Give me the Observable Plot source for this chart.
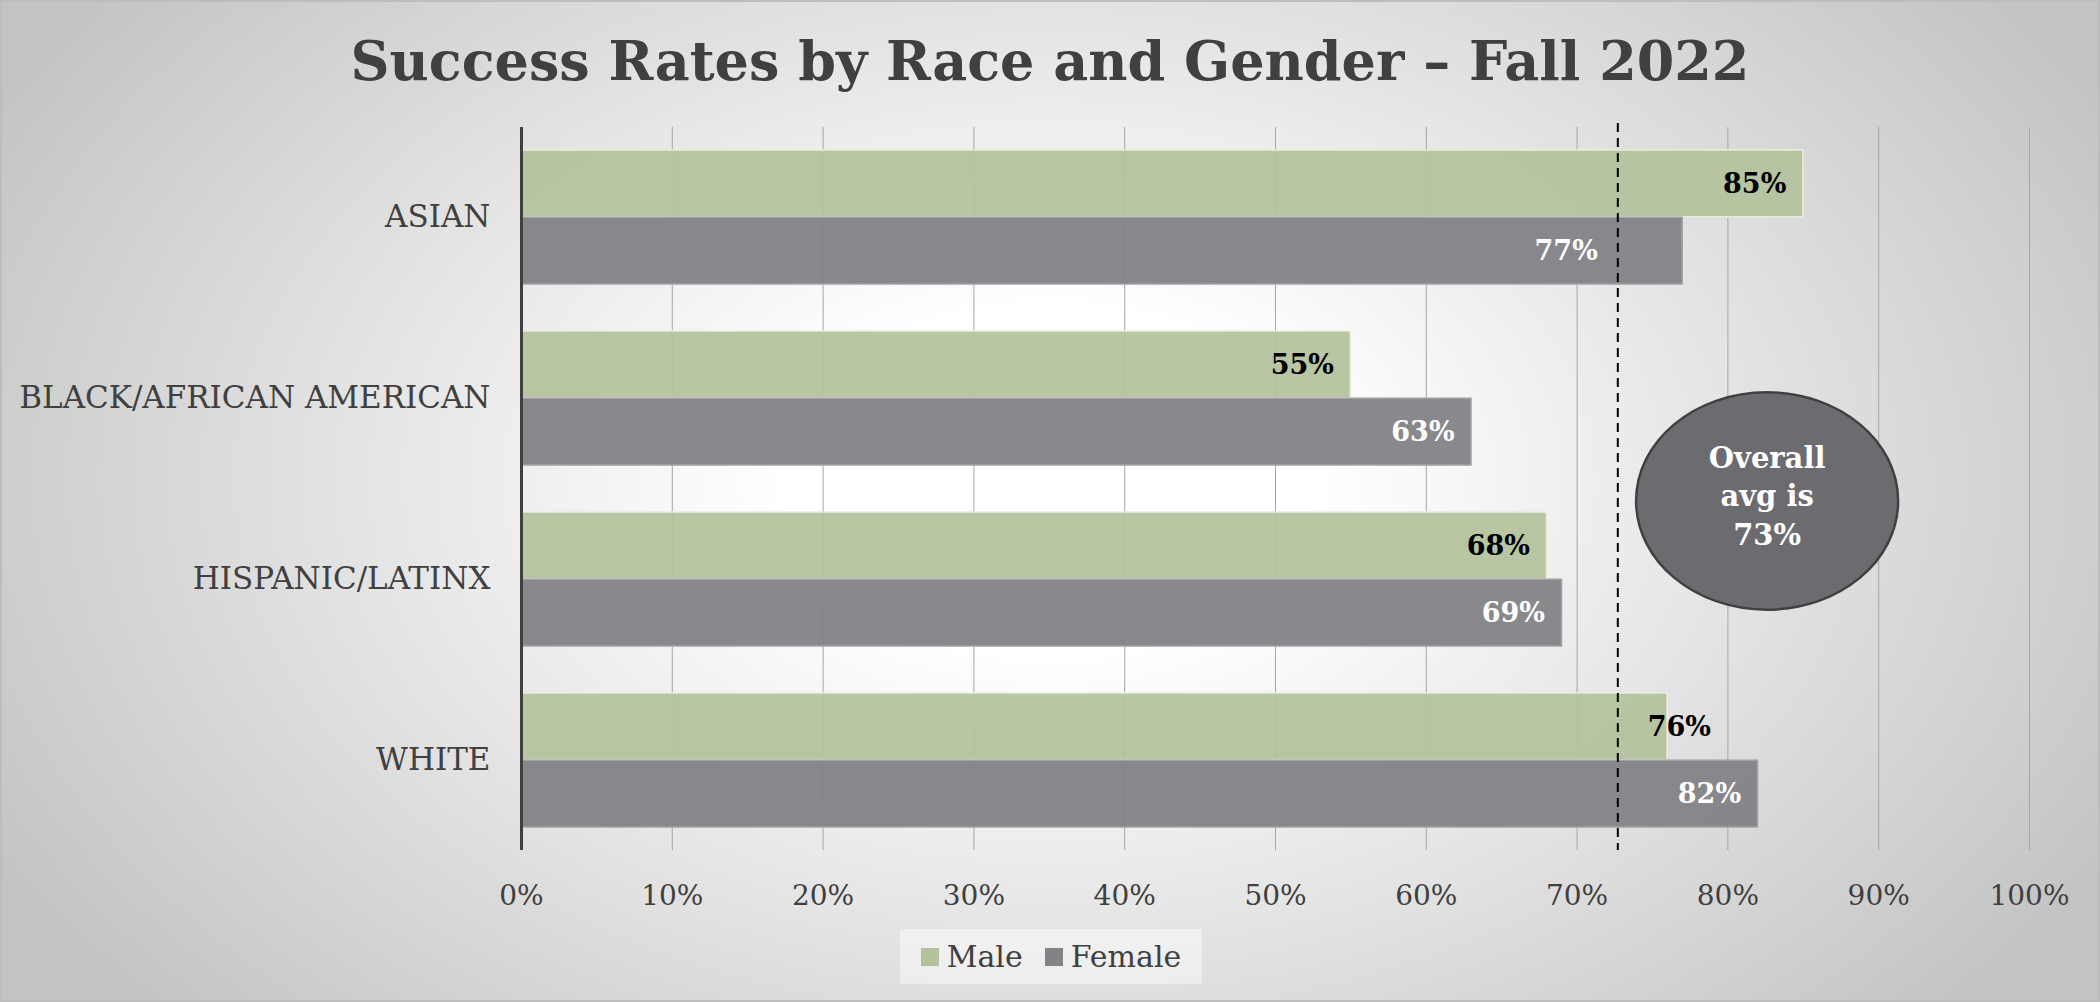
<!DOCTYPE html>
<html><head><meta charset="utf-8">
<script src="https://cdn.jsdelivr.net/npm/d3@7"></script>
<script src="https://cdn.jsdelivr.net/npm/@observablehq/plot@0.6"></script>
<style>
html,body{margin:0;padding:0;background:#fff;}
#chart{position:relative;width:2100px;height:1002px;overflow:hidden;font-family:"DejaVu Serif",serif;
  background: radial-gradient(ellipse 58% 80% at 50% 48%, #ffffff 22%, #c3c3c3 100%);}
#frame{position:absolute;inset:0;box-shadow:inset 0 0 0 2px #bdbdbd;pointer-events:none;}
#title{position:absolute;left:0;right:0;top:23px;text-align:center;font-weight:bold;font-size:54px;line-height:76px;color:#404040;}
#plot{position:absolute;left:0;top:90px;}
#legend{position:absolute;left:900px;top:929px;width:302px;height:55px;background:rgba(255,255,255,0.45);
  display:flex;align-items:center;justify-content:center;gap:0;font-size:30px;color:#404040;}
#legend .item{display:flex;align-items:center;margin:0 11px;}
#legend .sw{width:18px;height:18px;margin-right:8px;box-sizing:border-box;}
</style></head>
<body>
<div id="chart">
  <div id="title">Success Rates by Race and Gender – Fall 2022</div>
  <div id="plot"></div>
  <div id="legend"></div>
  <div id="frame"></div>
</div>
<script>
// ---- data ----
const races = ["ASIAN", "BLACK/AFRICAN AMERICAN", "HISPANIC/LATINX", "WHITE"];
const genders = ["Male", "Female"];
const maleRates = [85, 55, 68, 76];
const femaleRates = [77, 63, 69, 82];
const xTicks = [0, 10, 20, 30, 40, 50, 60, 70, 80, 90, 100];
const overallAvgLine = [72.7];
const avgNote = ["Overall\navg is\n73%"];
const noteX = [82.6];
// label nudges (in % units) for labels moved by hand in the original
const labelNudge = {"ASIAN|Female": -4.5, "WHITE|Male": 4.0};

const colors = {Male: "#b3c29c", Female: "#838287"};

const rows = races.flatMap((r, i) => [
  {race: r, gender: "Male", value: maleRates[i]},
  {race: r, gender: "Female", value: femaleRates[i]}
]);
const maleRows = rows.filter(d => d.gender === "Male");
const femaleRows = rows.filter(d => d.gender === "Female");

// ---- layout ----
const W = 2100, H = 840, mt = 37, mb = 80, ml = 521, mr = 71;
const padIn = 0.261, padOut = 0.118;
const step = (H - mt - mb) / (races.length - padIn + 2 * padOut);
const bw = step * (1 - padIn);
const half = bw / 2;

const ellipseSymbol = {
  draw(ctx, size) {
    const rx = Math.sqrt(size / Math.PI), ry = rx * 0.83, k = 0.5523;
    ctx.moveTo(rx, 0);
    ctx.bezierCurveTo(rx, k * ry, k * rx, ry, 0, ry);
    ctx.bezierCurveTo(-k * rx, ry, -rx, k * ry, -rx, 0);
    ctx.bezierCurveTo(-rx, -k * ry, -k * rx, -ry, 0, -ry);
    ctx.bezierCurveTo(k * rx, -ry, rx, -k * ry, rx, 0);
    ctx.closePath();
  }
};

const labelX = d => d.value + (labelNudge[d.race + "|" + d.gender] || 0);

const plot = Plot.plot({
  width: W, height: H,
  marginTop: mt, marginBottom: mb, marginLeft: ml, marginRight: mr,
  style: {fontFamily: "DejaVu Serif", background: "transparent", overflow: "visible"},
  x: {domain: [0, 100]},
  y: {domain: races, paddingInner: padIn, paddingOuter: padOut},
  marks: [
    Plot.gridX(xTicks, {stroke: "#a6a6a6", strokeOpacity: 1, strokeWidth: 1}),
    Plot.barX(maleRows, {x: "value", y: "race", insetBottom: half, fill: colors.Male, fillOpacity: 0.93, stroke: "#e8eddf", strokeWidth: 1.5}),
    Plot.barX(femaleRows, {x: "value", y: "race", insetTop: half, fill: colors.Female, fillOpacity: 0.95, stroke: "#a3a2a6", strokeWidth: 1.5}),
    Plot.ruleX(overallAvgLine, {stroke: "#000", strokeWidth: 2, strokeDasharray: "9,6", insetTop: -4}),
    Plot.ruleX([0], {stroke: "#404040", strokeWidth: 3}),
    Plot.text(maleRows, {x: labelX, y: "race", dy: -half / 2, dx: -17, text: d => d.value + "%", textAnchor: "end",
      fontWeight: "bold", fontSize: 27, fill: "#000"}),
    Plot.text(femaleRows, {x: labelX, y: "race", dy: half / 2, dx: -17, text: d => d.value + "%", textAnchor: "end",
      fontWeight: "bold", fontSize: 27, fill: "#fff"}),
    Plot.dot(noteX, {x: d => d, r: 131, symbol: ellipseSymbol, fill: "#6c6b70", stroke: "#404040", strokeWidth: 2.5, dy: 12}),
    Plot.text(avgNote, {x: noteX[0], text: d => d, fill: "#fff", fontWeight: "bold", fontSize: 29, lineHeight: 1.32, dy: 5}),
    Plot.axisX({ticks: xTicks, tickFormat: d => d + "%", tickSize: 0, tickPadding: 35, fontSize: 28, color: "#404040", label: null}),
    Plot.axisY({tickSize: 0, tickPadding: 31, fontSize: 31, color: "#404040", label: null})
  ]
});
document.getElementById("plot").appendChild(plot);

// legend
const legend = document.getElementById("legend");
genders.forEach(g => {
  const it = document.createElement("div");
  it.className = "item";
  const sw = document.createElement("span");
  sw.className = "sw";
  sw.style.background = colors[g];
  const tx = document.createElement("span");
  tx.textContent = g;
  it.appendChild(sw); it.appendChild(tx);
  legend.appendChild(it);
});
</script>
</body></html>
